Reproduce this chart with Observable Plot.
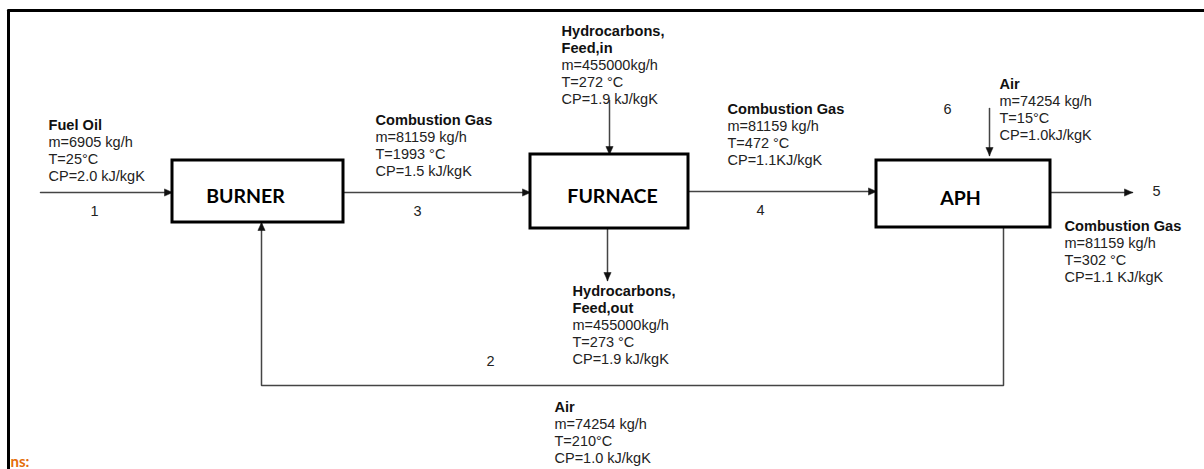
<!DOCTYPE html>
<html>
<head>
<meta charset="utf-8">
<script src="https://cdn.jsdelivr.net/npm/d3@7"></script>
<script src="https://cdn.jsdelivr.net/npm/@observablehq/plot@0.6"></script>
<style>
  html, body { margin: 0; padding: 0; background: #fff; }
  #chart svg { display: block; }
</style>
</head>
<body>
<div id="chart"></div>
<script>
// Process units (diagram coordinates, px-like units)
const units = [
  {name: "BURNER",  x1: 172, x2: 343, y1: 160, y2: 222, lx: 245, ly: 196},
  {name: "FURNACE", x1: 530, x2: 688, y1: 154, y2: 228, lx: 612, ly: 196},
  {name: "APH",     x1: 876, x2: 1050, y1: 160, y2: 227, lx: 960, ly: 198}
];

// Stream labels: bold title lines + property lines
const streamLabels = [
  {title: ["Fuel Oil"], props: ["m=6905 kg/h", "T=25°C", "CP=2.0 kJ/kgK"], x: 48, y: 125},
  {title: ["Combustion Gas"], props: ["m=81159 kg/h", "T=1993 °C", "CP=1.5 kJ/kgK"], x: 375, y: 120},
  {title: ["Hydrocarbons,", "Feed,in"], props: ["m=455000kg/h", "T=272 °C", "CP=1.9 kJ/kgK"], x: 561, y: 31},
  {title: ["Combustion Gas"], props: ["m=81159 kg/h", "T=472 °C", "CP=1.1KJ/kgK"], x: 727, y: 109},
  {title: ["Air"], props: ["m=74254 kg/h", "T=15°C", "CP=1.0kJ/kgK"], x: 999, y: 84},
  {title: ["Combustion Gas"], props: ["m=81159 kg/h", "T=302 °C", "CP=1.1 KJ/kgK"], x: 1064, y: 226},
  {title: ["Hydrocarbons,", "Feed,out"], props: ["m=455000kg/h", "T=273 °C", "CP=1.9 kJ/kgK"], x: 572, y: 291},
  {title: ["Air"], props: ["m=74254 kg/h", "T=210°C", "CP=1.0 kJ/kgK"], x: 554, y: 407}
];

// Stream numbers
const streamNumbers = [
  {label: "1", x: 94, y: 211},
  {label: "2", x: 490, y: 361},
  {label: "3", x: 417, y: 211},
  {label: "4", x: 760, y: 210},
  {label: "5", x: 1156, y: 191},
  {label: "6", x: 947, y: 109}
];

// Stream arrows (polylines, arrowhead at last point)
const streamArrows = [
  {id: "1", pts: [[40, 192], [172, 192]]},
  {id: "3", pts: [[343, 192], [530, 192]]},
  {id: "4", pts: [[688, 191], [876, 191]]},
  {id: "5", pts: [[1050, 192], [1132, 192]]},
  {id: "feed-in", pts: [[609, 100], [609, 154]]},
  {id: "feed-out", pts: [[607, 228], [607, 280]]},
  {id: "6", pts: [[989, 108], [989, 155]]},
  {id: "2", pts: [[1003, 227], [1003, 385], [261, 385], [261, 222]]}
];

// Frame lines
const frame = [
  {id: "top", pts: [[8, 10], [1204, 10]]},
  {id: "left", pts: [[8, 10], [8, 469]]}
];

const footerText = "ns:";

// ---- derived tables ----
const LINE = 16.9;
const textRows = streamLabels.flatMap(d => {
  const lines = [...d.title.map(t => ({t, bold: true})), ...d.props.map(t => ({t, bold: false}))];
  return lines.map((l, i) => ({x: d.x, y: d.y + i * LINE, text: l.t, bold: l.bold}));
});
const segRows = streamArrows.flatMap(a => a.pts.map(([x, y]) => ({id: a.id, x, y})));
const frameRows = frame.flatMap(a => a.pts.map(([x, y]) => ({id: a.id, x, y})));
const headRows = streamArrows.flatMap(a => {
  const [x0, y0] = a.pts[a.pts.length - 2];
  const [x1, y1] = a.pts[a.pts.length - 1];
  const len = Math.hypot(x1 - x0, y1 - y0);
  const ux = (x1 - x0) / len, uy = (y1 - y0) / len;
  const L = 8, W = 3.6;
  const bx = x1 - ux * L, by = y1 - uy * L;
  return [
    {id: a.id, x: x1, y: y1},
    {id: a.id, x: bx - uy * W, y: by + ux * W},
    {id: a.id, x: bx + uy * W, y: by - ux * W},
    {id: a.id, x: x1, y: y1}
  ];
});

const chart = Plot.plot({
  width: 1204,
  height: 469,
  margin: 0,
  x: {domain: [0, 1204], axis: null},
  y: {domain: [0, 469], reverse: true, axis: null},
  style: {fontFamily: "'Liberation Sans', Arial, sans-serif", background: "#fff"},
  marks: [
    Plot.line(frameRows, {x: "x", y: "y", z: "id", stroke: "#000", strokeWidth: 3, curve: "linear"}),
    Plot.line(segRows, {x: "x", y: "y", z: "id", stroke: "#444", strokeWidth: 1.5, curve: "linear", strokeLinejoin: "miter"}),
    Plot.line(headRows, {x: "x", y: "y", z: "id", fill: "#111", stroke: "#111", strokeWidth: 0.5, curve: "linear"}),
    Plot.rect(units, {x1: "x1", x2: "x2", y1: "y1", y2: "y2", fill: "#fff", stroke: "#000", strokeWidth: 3}),
    Plot.text(units, {x: "lx", y: "ly", text: "name", fontSize: 19.5, fontWeight: "bold", fontFamily: "Lato, 'Open Sans', sans-serif", fill: "#000"}),
    Plot.text(textRows.filter(d => d.bold), {x: "x", y: "y", text: "text", textAnchor: "start", fontSize: 14.6, fontWeight: "bold", fill: "#111"}),
    Plot.text(textRows.filter(d => !d.bold), {x: "x", y: "y", text: "text", textAnchor: "start", fontSize: 14.5, fill: "#222"}),
    Plot.text(streamNumbers, {x: "x", y: "y", text: "label", fontSize: 14.5, fill: "#222"}),
    Plot.text([footerText], {x: () => 10, y: () => 462, text: d => d, textAnchor: "start", fontSize: 15, fontWeight: "bold", fontFamily: "Lato, sans-serif", fill: "#E46C0A"})
  ]
});
document.getElementById("chart").appendChild(chart);
</script>
</body>
</html>
